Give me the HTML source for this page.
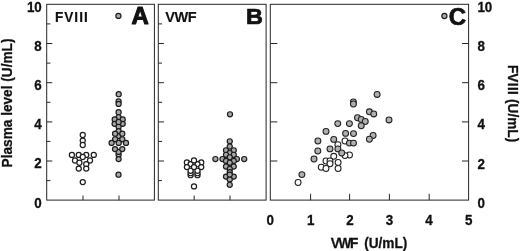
<!DOCTYPE html>
<html><head><meta charset="utf-8"><title>Figure</title>
<style>
html,body{margin:0;padding:0;background:#fff;}
body{width:520px;height:251px;overflow:hidden;}
svg{display:block;}
text{font-family:"Liberation Sans",Arial,Helvetica,sans-serif;fill:#111;}
.b{font-weight:bold;stroke:#111;stroke-width:0.3;}
.bn{font-weight:bold;stroke:#111;stroke-width:0.15;}
.big{font-weight:bold;stroke:#111;stroke-linejoin:round;}
.ax{stroke:#262626;stroke-width:1;fill:none;}
.w{fill:#fff;stroke:#1c1c1c;stroke-width:1.2;}
.g{fill:#a8a8a8;stroke:#1c1c1c;stroke-width:1.2;}
.wc{fill:#fff;stroke:#222;stroke-width:1.05;}
.gc{fill:#b0b0b0;stroke:#222;stroke-width:1.05;}
</style></head><body>
<svg width="520" height="251" viewBox="0 0 520 251">
<rect width="520" height="251" fill="#fff"/>

<rect class="ax" x="46.7" y="4.3" width="107.7" height="195.8"/>
<rect class="ax" x="158.3" y="4.3" width="107.8" height="195.8"/>
<rect class="ax" x="270.3" y="4.3" width="198.3" height="195.8"/>
<line class="ax" x1="46.7" x2="50.400000000000006" y1="180.6" y2="180.6"/>
<line class="ax" x1="46.7" x2="52.300000000000004" y1="161.0" y2="161.0"/>
<line class="ax" x1="46.7" x2="50.400000000000006" y1="141.4" y2="141.4"/>
<line class="ax" x1="46.7" x2="52.300000000000004" y1="121.9" y2="121.9"/>
<line class="ax" x1="46.7" x2="50.400000000000006" y1="102.3" y2="102.3"/>
<line class="ax" x1="46.7" x2="52.300000000000004" y1="82.7" y2="82.7"/>
<line class="ax" x1="46.7" x2="50.400000000000006" y1="63.1" y2="63.1"/>
<line class="ax" x1="46.7" x2="52.300000000000004" y1="43.5" y2="43.5"/>
<line class="ax" x1="46.7" x2="50.400000000000006" y1="23.9" y2="23.9"/>
<line class="ax" x1="158.3" x2="162.0" y1="180.6" y2="180.6"/>
<line class="ax" x1="158.3" x2="163.9" y1="161.0" y2="161.0"/>
<line class="ax" x1="158.3" x2="162.0" y1="141.4" y2="141.4"/>
<line class="ax" x1="158.3" x2="163.9" y1="121.9" y2="121.9"/>
<line class="ax" x1="158.3" x2="162.0" y1="102.3" y2="102.3"/>
<line class="ax" x1="158.3" x2="163.9" y1="82.7" y2="82.7"/>
<line class="ax" x1="158.3" x2="162.0" y1="63.1" y2="63.1"/>
<line class="ax" x1="158.3" x2="163.9" y1="43.5" y2="43.5"/>
<line class="ax" x1="158.3" x2="162.0" y1="23.9" y2="23.9"/>
<line class="ax" x1="270.3" x2="277.3" y1="161.0" y2="161.0"/>
<line class="ax" x1="462.0" x2="468.6" y1="161.0" y2="161.0"/>
<line class="ax" x1="270.3" x2="277.3" y1="121.9" y2="121.9"/>
<line class="ax" x1="462.0" x2="468.6" y1="121.9" y2="121.9"/>
<line class="ax" x1="270.3" x2="277.3" y1="82.7" y2="82.7"/>
<line class="ax" x1="462.0" x2="468.6" y1="82.7" y2="82.7"/>
<line class="ax" x1="270.3" x2="277.3" y1="43.5" y2="43.5"/>
<line class="ax" x1="462.0" x2="468.6" y1="43.5" y2="43.5"/>
<line class="ax" x1="83.0" x2="83.0" y1="195.5" y2="200.2"/>
<line class="ax" x1="119.0" x2="119.0" y1="195.5" y2="200.2"/>
<line class="ax" x1="194.2" x2="194.2" y1="195.5" y2="200.2"/>
<line class="ax" x1="230.0" x2="230.0" y1="195.5" y2="200.2"/>
<line class="ax" x1="310.6" x2="310.6" y1="193.79999999999998" y2="200.2"/>
<line class="ax" x1="349.6" x2="349.6" y1="193.79999999999998" y2="200.2"/>
<line class="ax" x1="389.4" x2="389.4" y1="193.79999999999998" y2="200.2"/>
<line class="ax" x1="429.2" x2="429.2" y1="193.79999999999998" y2="200.2"/>
<text class="b" transform="translate(41.8,207.6) scale(0.91,1)" font-size="14.7" text-anchor="end">0</text>
<text class="b" transform="translate(477.4,207.7) scale(0.91,1)" font-size="14.7" text-anchor="start">0</text>
<text class="b" transform="translate(41.8,168.4) scale(0.91,1)" font-size="14.7" text-anchor="end">2</text>
<text class="b" transform="translate(477.4,168.5) scale(0.91,1)" font-size="14.7" text-anchor="start">2</text>
<text class="b" transform="translate(41.8,129.3) scale(0.91,1)" font-size="14.7" text-anchor="end">4</text>
<text class="b" transform="translate(477.4,129.4) scale(0.91,1)" font-size="14.7" text-anchor="start">4</text>
<text class="b" transform="translate(41.8,90.1) scale(0.91,1)" font-size="14.7" text-anchor="end">6</text>
<text class="b" transform="translate(477.4,90.2) scale(0.91,1)" font-size="14.7" text-anchor="start">6</text>
<text class="b" transform="translate(41.8,50.9) scale(0.91,1)" font-size="14.7" text-anchor="end">8</text>
<text class="b" transform="translate(477.4,51.0) scale(0.91,1)" font-size="14.7" text-anchor="start">8</text>
<text class="b" transform="translate(41.8,11.7) scale(0.91,1)" font-size="14.7" text-anchor="end">10</text>
<text class="b" transform="translate(477.4,12.3) scale(0.91,1)" font-size="14.7" text-anchor="start">10</text>
<text class="b" transform="translate(270.3,225.1) scale(0.91,1)" font-size="14.7" text-anchor="middle">0</text>
<text class="b" transform="translate(310.6,225.1) scale(0.91,1)" font-size="14.7" text-anchor="middle">1</text>
<text class="b" transform="translate(349.9,225.1) scale(0.91,1)" font-size="14.7" text-anchor="middle">2</text>
<text class="b" transform="translate(389.4,225.1) scale(0.91,1)" font-size="14.7" text-anchor="middle">3</text>
<text class="b" transform="translate(428.9,225.1) scale(0.91,1)" font-size="14.7" text-anchor="middle">4</text>
<text class="b" transform="translate(468.6,225.1) scale(0.91,1)" font-size="14.7" text-anchor="middle">5</text>
<text class="b" transform="translate(330.8,248.3) scale(0.91,1)" font-size="15.0" text-anchor="start" dx="0 -1.6 -1.5 0 2.3">VWF (U/mL)</text>
<text class="b" transform="translate(11.8,103.0) rotate(-90) scale(0.91,1)" font-size="15.0" text-anchor="middle">Plasma level (U/mL)</text>
<text class="b" transform="translate(508.4,65.0) rotate(90) scale(0.91,1)" font-size="15.0" text-anchor="start">F<tspan letter-spacing="0.4">VIII</tspan> (U/mL)</text>
<text class="bn" transform="translate(54.9,22.3) scale(0.955,1)" font-size="14.3" text-anchor="start" letter-spacing="1.05">FVIII</text>
<text class="bn" transform="translate(165.2,22.3) scale(0.975,1)" font-size="14.9" text-anchor="start" letter-spacing="-0.4">VWF</text>
<text class="big" transform="translate(131.4,23.8) scale(1.04,1)" font-size="23.0" stroke-width="1.0">A</text>
<text class="big" transform="translate(245.9,23.7) scale(1.07,1)" font-size="21.9" stroke-width="0.7">B</text>
<text class="big" transform="translate(448.8,24.5) scale(1.045,1)" font-size="23" stroke-width="0.7">C</text>
<circle class="w" cx="82.75" cy="135" r="2.55"/>
<circle class="w" cx="82.75" cy="140.6" r="2.55"/>
<circle class="w" cx="82.75" cy="145" r="2.55"/>
<circle class="w" cx="71.9" cy="154.9" r="2.55"/>
<circle class="w" cx="78.75" cy="154.9" r="2.55"/>
<circle class="w" cx="86.25" cy="154.9" r="2.55"/>
<circle class="w" cx="93.75" cy="154.9" r="2.55"/>
<circle class="w" cx="82.75" cy="157" r="2.55"/>
<circle class="w" cx="75" cy="160.5" r="2.55"/>
<circle class="w" cx="90" cy="160.5" r="2.55"/>
<circle class="w" cx="79.4" cy="162.75" r="2.55"/>
<circle class="w" cx="86.25" cy="164.25" r="2.55"/>
<circle class="w" cx="78.75" cy="168.6" r="2.55"/>
<circle class="w" cx="86.25" cy="168.6" r="2.55"/>
<circle class="w" cx="82.75" cy="182.1" r="2.55"/>
<circle class="g" cx="118.4" cy="15.9" r="2.55"/>
<circle class="g" cx="118.7" cy="94.2" r="2.55"/>
<circle class="g" cx="118.6" cy="101.5" r="2.55"/>
<circle class="g" cx="118.6" cy="103.9" r="2.55"/>
<circle class="g" cx="118.6" cy="112.2" r="2.55"/>
<circle class="g" cx="118.6" cy="117.3" r="2.55"/>
<circle class="g" cx="114.7" cy="119.5" r="2.55"/>
<circle class="g" cx="122.7" cy="119.5" r="2.55"/>
<circle class="g" cx="114.6" cy="123.85" r="2.55"/>
<circle class="g" cx="122.7" cy="123.85" r="2.55"/>
<circle class="g" cx="118.6" cy="126.75" r="2.55"/>
<circle class="g" cx="118.6" cy="122" r="2.55"/>
<circle class="g" cx="118.6" cy="136.0" r="2.55"/>
<circle class="g" cx="118.6" cy="131.1" r="2.55"/>
<circle class="g" cx="115.1" cy="133.7" r="2.55"/>
<circle class="g" cx="122.3" cy="133.7" r="2.55"/>
<circle class="g" cx="115.1" cy="139.3" r="2.55"/>
<circle class="g" cx="122.3" cy="139.3" r="2.55"/>
<circle class="g" cx="111.6" cy="142.9" r="2.55"/>
<circle class="g" cx="118.7" cy="142.9" r="2.55"/>
<circle class="g" cx="126" cy="142.9" r="2.55"/>
<circle class="g" cx="118.6" cy="154.8" r="2.55"/>
<circle class="g" cx="118.6" cy="151.9" r="2.55"/>
<circle class="g" cx="115" cy="149.1" r="2.55"/>
<circle class="g" cx="122.3" cy="149.1" r="2.55"/>
<circle class="g" cx="118.6" cy="159.1" r="2.55"/>
<circle class="g" cx="118.5" cy="174.7" r="2.55"/>
<circle class="w" cx="190.6" cy="175.2" r="2.55"/>
<circle class="w" cx="197.5" cy="175.2" r="2.55"/>
<circle class="w" cx="190.6" cy="173.2" r="2.55"/>
<circle class="w" cx="197.5" cy="173.2" r="2.55"/>
<circle class="w" cx="190.6" cy="170.8" r="2.55"/>
<circle class="w" cx="197.5" cy="170.8" r="2.55"/>
<circle class="w" cx="186.9" cy="162.4" r="2.55"/>
<circle class="w" cx="201.25" cy="162.4" r="2.55"/>
<circle class="w" cx="190.6" cy="164.2" r="2.55"/>
<circle class="w" cx="197.5" cy="164.2" r="2.55"/>
<circle class="w" cx="186.9" cy="167.1" r="2.55"/>
<circle class="w" cx="194" cy="167.1" r="2.55"/>
<circle class="w" cx="201.25" cy="167.1" r="2.55"/>
<circle class="w" cx="194" cy="160.4" r="2.55"/>
<circle class="w" cx="194" cy="186.4" r="2.55"/>
<circle class="g" cx="230" cy="114.3" r="2.55"/>
<circle class="g" cx="229.75" cy="141.3" r="2.55"/>
<circle class="g" cx="229.75" cy="146.55" r="2.55"/>
<circle class="g" cx="226" cy="150.3" r="2.55"/>
<circle class="g" cx="233.75" cy="150.3" r="2.55"/>
<circle class="g" cx="229.75" cy="153.05" r="2.55"/>
<circle class="g" cx="226" cy="154.8" r="2.55"/>
<circle class="g" cx="233.75" cy="154.8" r="2.55"/>
<circle class="g" cx="229.75" cy="157.3" r="2.55"/>
<circle class="g" cx="215.4" cy="159.05" r="2.55"/>
<circle class="g" cx="222.5" cy="159.05" r="2.55"/>
<circle class="g" cx="236.9" cy="159.05" r="2.55"/>
<circle class="g" cx="244.2" cy="159.05" r="2.55"/>
<circle class="g" cx="226" cy="160.9" r="2.55"/>
<circle class="g" cx="233.75" cy="160.9" r="2.55"/>
<circle class="g" cx="229.75" cy="162.8" r="2.55"/>
<circle class="g" cx="226" cy="166.55" r="2.55"/>
<circle class="g" cx="233.75" cy="166.55" r="2.55"/>
<circle class="g" cx="229.75" cy="169.05" r="2.55"/>
<circle class="g" cx="229.75" cy="172.2" r="2.55"/>
<circle class="g" cx="226" cy="176.6" r="2.55"/>
<circle class="g" cx="233.75" cy="176.6" r="2.55"/>
<circle class="g" cx="229.75" cy="179.4" r="2.55"/>
<circle class="g" cx="229.75" cy="184.8" r="2.55"/>
<circle class="g" cx="229.75" cy="174.6" r="2.55"/>
<circle class="wc" cx="345" cy="141" r="2.95"/>
<circle class="wc" cx="337.9" cy="144.75" r="2.95"/>
<circle class="wc" cx="349.5" cy="155" r="2.95"/>
<circle class="wc" cx="345" cy="155.6" r="2.95"/>
<circle class="wc" cx="333.75" cy="156.3" r="2.95"/>
<circle class="wc" cx="326" cy="161" r="2.95"/>
<circle class="wc" cx="330" cy="161" r="2.95"/>
<circle class="wc" cx="338.1" cy="162.5" r="2.95"/>
<circle class="wc" cx="330" cy="163.75" r="2.95"/>
<circle class="wc" cx="321.25" cy="167.25" r="2.95"/>
<circle class="wc" cx="326" cy="168.5" r="2.95"/>
<circle class="wc" cx="338.1" cy="168.5" r="2.95"/>
<circle class="wc" cx="298.1" cy="182.5" r="2.95"/>
<circle class="gc" cx="377.1" cy="94.4" r="2.95"/>
<circle class="gc" cx="353.4" cy="101.9" r="2.95"/>
<circle class="gc" cx="353.4" cy="104" r="2.95"/>
<circle class="gc" cx="369.4" cy="111.8" r="2.95"/>
<circle class="gc" cx="373.75" cy="113.9" r="2.95"/>
<circle class="gc" cx="389" cy="119.9" r="2.95"/>
<circle class="gc" cx="357.5" cy="117.75" r="2.95"/>
<circle class="gc" cx="361.25" cy="119.5" r="2.95"/>
<circle class="gc" cx="365.25" cy="121.5" r="2.95"/>
<circle class="gc" cx="361.25" cy="125.75" r="2.95"/>
<circle class="gc" cx="337.75" cy="123.6" r="2.95"/>
<circle class="gc" cx="349.4" cy="123.6" r="2.95"/>
<circle class="gc" cx="326" cy="131.4" r="2.95"/>
<circle class="gc" cx="345.6" cy="133.4" r="2.95"/>
<circle class="gc" cx="353.5" cy="133.6" r="2.95"/>
<circle class="gc" cx="373.1" cy="135.5" r="2.95"/>
<circle class="gc" cx="369.4" cy="139.2" r="2.95"/>
<circle class="gc" cx="333.75" cy="139.4" r="2.95"/>
<circle class="gc" cx="317.9" cy="141" r="2.95"/>
<circle class="gc" cx="349.4" cy="143.1" r="2.95"/>
<circle class="gc" cx="353.5" cy="143.1" r="2.95"/>
<circle class="gc" cx="330" cy="148.9" r="2.95"/>
<circle class="gc" cx="337.9" cy="148.9" r="2.95"/>
<circle class="gc" cx="317.8" cy="151" r="2.95"/>
<circle class="gc" cx="341.7" cy="153" r="2.95"/>
<circle class="gc" cx="314" cy="159" r="2.95"/>
<circle class="gc" cx="301.9" cy="174.6" r="2.95"/>
<circle class="g" cx="444.4" cy="16" r="2.55"/>
</svg></body></html>
